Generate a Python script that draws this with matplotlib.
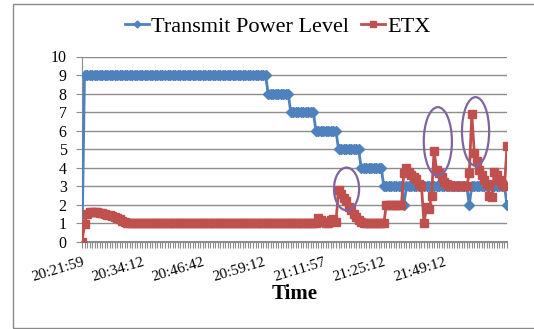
import matplotlib
matplotlib.use("Agg")
import matplotlib.pyplot as plt
from matplotlib.patches import Ellipse, Rectangle
import numpy as np

# ── Data (one sample per category on the time axis) ──────────────────────────
tick_labels = ["20:21:59", "20:34:12", "20:46:42", "20:59:12",
               "21:11:57", "21:25:12", "21:49:12"]
label_every = 24

tx_power = ([0] + [9] * 73 + [8] * 9 + [7] * 10 + [6] * 9 + [5] * 9
            + [4] * 9 + [3] * 8 + [2] + [3] * 25 + [2] + [3] * 14 + [2])

etx = ([0, 0.95, 1.5, 1.6, 1.62, 1.62, 1.6, 1.58, 1.55, 1.5, 1.47, 1.43,
        1.4, 1.35, 1.3, 1.22, 1.15, 1.08, 1.03]
       + [1.0] * 75
       + [1.3, 1.2, 1.1, 1.0, 1.0, 1.2, 1.25, 1.1]
       + [2.8, 2.6, 2.35, 2.2, 1.9, 1.7, 1.5, 1.35, 1.2, 1.1, 1.05]
       + [1.0] * 8
       + [2.0] * 7
       + [3.7, 4.0, 3.8, 3.6, 3.5, 3.4, 3.1, 3.0]
       + [1.0, 1.9, 1.8, 2.5, 4.9, 3.9, 3.7, 3.5, 3.25, 3.1]
       + [3.0] * 8
       + [3.7, 6.9, 4.8, 4.35, 3.9, 3.6, 3.35, 3.1, 2.5, 2.4, 3.8, 3.6,
          3.35, 3.1, 3.0, 5.15])

# highlighted regions (centre x, centre y, width, height) in data units
highlights = [(105.2, 2.86, 10.0, 2.3),
              (141.5, 5.42, 11.2, 3.7),
              (156.5, 5.96, 10.8, 3.7)]

BLUE = "#4F81BD"
RED = "#C0504D"
PURPLE = "#8064A2"
GRID = "#8C8C8C"

plt.rcParams.update({
    "font.family": "Liberation Serif",
    "font.size": 11,
})

fig = plt.figure(figsize=(5.34, 3.29), dpi=100)
ax = fig.add_axes([82 / 534, 1 - 242 / 329, 425 / 534, (242 - 56.5) / 329])

# chart-area border
fig.patches.append(Rectangle((13 / 534, 1 / 329), 1.2, 1 - 5 / 329,
                             transform=fig.transFigure, fill=False,
                             edgecolor="#8A8A8A", linewidth=1.0))

x = np.arange(len(tx_power))
ax.plot(x, tx_power, color=BLUE, lw=2.0, marker="D", ms=5.0,
        mec=BLUE, mfc=BLUE, label="Transmit Power Level", zorder=3)
ax.plot(x, etx, color=RED, lw=2.0, marker="s", ms=6.0,
        mec=RED, mfc=RED, label="ETX", zorder=4)

for cx, cy, w, h in highlights:
    ax.add_patch(Ellipse((cx, cy), w, h, fill=False, edgecolor=PURPLE,
                         lw=1.6, zorder=5))

# ── Axes styling ─────────────────────────────────────────────────────────────
ax.set_xlim(0, len(x) - 1)
ax.set_ylim(0, 10)
ax.set_yticks(range(0, 11))
ax.yaxis.grid(True, color=GRID, lw=1.0)
ax.set_axisbelow(True)
for s in ("top", "right"):
    ax.spines[s].set_visible(False)
ax.spines["left"].set_color(GRID)
ax.spines["bottom"].set_color(GRID)
ax.spines["bottom"].set_linewidth(1.5)
ax.tick_params(axis="y", colors=GRID, labelcolor="black", length=4,
               labelsize=11.5, pad=7)

ax.set_xticks(x, minor=True)
ax.set_xticks(np.arange(len(tick_labels)) * label_every)
ax.set_xticklabels(tick_labels, rotation=17, ha="right", va="top",
                   rotation_mode="anchor", fontsize=11)
ax.tick_params(axis="x", which="both", colors=GRID, labelcolor="black",
               length=4, width=0.8, pad=6)

ax.set_xlabel("Time", fontsize=15, fontweight="bold", labelpad=0)

fig.legend(loc="upper center", bbox_to_anchor=(0.52, 1.01), ncol=2,
           frameon=False, fontsize=16, handlelength=1.1, handletextpad=0.1,
           columnspacing=0.5, markerscale=0.7)

fig.savefig("out.png", dpi=100, facecolor="white")
